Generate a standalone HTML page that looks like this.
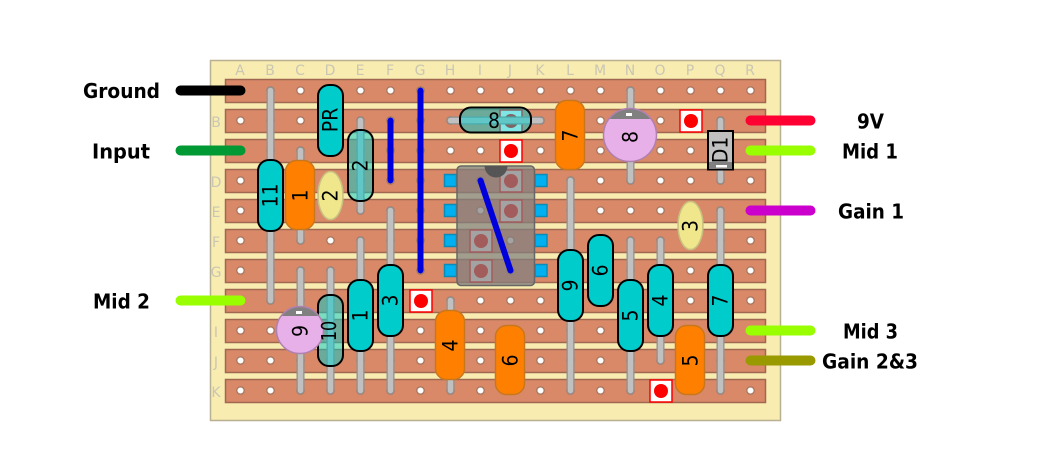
<!DOCTYPE html>
<html><head><meta charset="utf-8"><style>
html,body{margin:0;padding:0;background:#fff;width:1062px;height:471px;overflow:hidden}
svg{display:block}
.ll{font:bold 20.5px "DejaVu Sans",sans-serif;fill:#000}
.gl{font:14px "DejaVu Sans",sans-serif;fill:#c9c6b4;text-anchor:middle}
.t{font:21.5px "DejaVu Sans",sans-serif;fill:#000;text-anchor:middle;dominant-baseline:central}
.s{fill:#d98868;stroke:#a06850;stroke-width:1.5}
.wo{stroke:#8f8f8f;stroke-width:8;stroke-linecap:round;fill:none}
.wi{stroke:#c0c0c0;stroke-width:5.5;stroke-linecap:round;fill:none}
.b{stroke:#0000dd;stroke-width:6;stroke-linecap:round;fill:none}
.r{fill:#00cccc;stroke:#000;stroke-width:2}
.rt{fill:#00cccc;fill-opacity:.5;stroke:#000;stroke-width:2}
.c{fill:#ff8000;stroke:#c8771c;stroke-width:1.5}
.y{fill:#f0e68c;stroke:#c8c080;stroke-width:1.5}
.m{fill:#fff;stroke:#ff0000;stroke-width:1.5}
.d{fill:#ff0000}
.p{fill:#00b0f0;stroke:#0a8cb8;stroke-width:1.5}
.e{stroke-width:10;stroke-linecap:round;fill:none}
</style></head><body>
<svg width="1062" height="471" viewBox="0 0 1062 471" xmlns="http://www.w3.org/2000/svg">
<defs>
<pattern id="h" x="225.5" y="75.5" width="30" height="30" patternUnits="userSpaceOnUse">
<circle cx="15" cy="15" r="3.7" fill="#fff" stroke="#a87860" stroke-width="1.3"/>
</pattern>
<clipPath id="c8"><circle cx="630" cy="135" r="26.5"/></clipPath>
<clipPath id="c9"><circle cx="300" cy="330" r="23.5"/></clipPath>
</defs>
<rect x="210.500" y="60.500" width="570" height="360" fill="#f8ecb0" stroke="#b8b090" stroke-width="1.500"/>
<g class="gl">
<text x="240" y="75">A</text><text x="270" y="75">B</text><text x="300" y="75">C</text><text x="330" y="75">D</text><text x="360" y="75">E</text><text x="390" y="75">F</text><text x="420" y="75">G</text><text x="450" y="75">H</text><text x="480" y="75">I</text><text x="510" y="75">J</text><text x="540" y="75">K</text><text x="570" y="75">L</text><text x="600" y="75">M</text><text x="630" y="75">N</text><text x="660" y="75">O</text><text x="690" y="75">P</text><text x="720" y="75">Q</text><text x="750" y="75">R</text>
<text x="216" y="127">B</text><text x="216" y="187">D</text><text x="216" y="217">E</text><text x="216" y="247">F</text><text x="216" y="277">G</text><text x="216" y="337">I</text><text x="216" y="367">J</text><text x="216" y="397">K</text>
</g>
<g class="s">
<rect x="225.500" y="79.500" width="540" height="23"/><rect x="225.500" y="109.500" width="540" height="23"/><rect x="225.500" y="139.500" width="540" height="23"/><rect x="225.500" y="169.500" width="540" height="23"/><rect x="225.500" y="199.500" width="540" height="23"/><rect x="225.500" y="229.500" width="540" height="23"/><rect x="225.500" y="259.500" width="540" height="23"/><rect x="225.500" y="289.500" width="540" height="23"/><rect x="225.500" y="319.500" width="540" height="23"/><rect x="225.500" y="349.500" width="540" height="23"/><rect x="225.500" y="379.500" width="540" height="23"/>
</g>
<rect x="225.500" y="75.500" width="540" height="330" fill="url(#h)"/>
<!-- markers -->
<g class="m">
<rect x="500" y="110" width="22" height="22"/><rect x="500" y="140" width="22" height="22"/><rect x="680" y="110" width="22" height="22"/><rect x="410" y="290" width="22" height="22"/><rect x="650" y="380" width="22" height="22"/><rect x="500" y="170" width="22" height="22"/><rect x="500" y="200" width="22" height="22"/><rect x="470" y="230" width="22" height="22"/><rect x="470" y="260" width="22" height="22"/>
</g>
<g class="d">
<circle cx="511" cy="121" r="7"/><circle cx="511" cy="151" r="7"/><circle cx="691" cy="121" r="7"/><circle cx="421" cy="301" r="7"/><circle cx="661" cy="391" r="7"/><circle cx="511" cy="181" r="7"/><circle cx="511" cy="211" r="7"/><circle cx="481" cy="241" r="7"/><circle cx="481" cy="271" r="7"/>
</g>
<!-- lead wires -->
<g transform="translate(.5,.5)">
<path class="wo" d="M270 90V300M300 150V240M300 270V390M330 270V390M360 120V210M360 240V390M390 210V390M450 300V390M570 180V390M630 90V180M630 240V390M660 240V360M720 120V180M720 210V390M450 120H540"/>
<path class="wi" d="M270 90V300M300 150V240M300 270V390M330 270V390M360 120V210M360 240V390M390 210V390M450 300V390M570 180V390M630 90V180M630 240V390M660 240V360M720 120V180M720 210V390M450 120H540"/>
<path class="b" d="M420 90V270M390 120V180"/>
</g>
<!-- IC -->
<g class="p">
<rect x="444.500" y="174.500" width="12" height="12"/><rect x="444.500" y="204.500" width="12" height="12"/><rect x="444.500" y="234.500" width="12" height="12"/><rect x="444.500" y="264.500" width="12" height="12"/>
<rect x="535" y="174.500" width="12" height="12"/><rect x="535" y="204.500" width="12" height="12"/><rect x="535" y="234.500" width="12" height="12"/><rect x="535" y="264.500" width="12" height="12"/>
</g>
<rect x="457" y="166" width="77.500" height="119.500" rx="4" fill="#808080" fill-opacity=".72" stroke="#666" stroke-width="1.500"/>
<path d="M484.500 166a11.500 11.500 0 0 0 23 0z" fill="#555"/>
<path class="b" d="M480.500 180.500L510.500 270.500"/>
<!-- resistors -->
<rect class="r" x="318" y="85" width="25" height="71" rx="11"/>
<rect class="r" x="258" y="160" width="25" height="71" rx="11"/>
<rect class="r" x="348" y="280" width="25" height="71" rx="11"/>
<rect class="r" x="378" y="265" width="25" height="71" rx="11"/>
<rect class="r" x="558" y="250" width="25" height="71" rx="11"/>
<rect class="r" x="588" y="235" width="25" height="71" rx="11"/>
<rect class="r" x="618" y="280" width="25" height="71" rx="11"/>
<rect class="r" x="648" y="265" width="25" height="71" rx="11"/>
<rect class="r" x="708" y="265" width="25" height="71" rx="11"/>
<rect class="rt" x="348" y="130" width="25" height="71" rx="11"/>
<rect class="rt" x="318" y="295" width="25" height="71" rx="11"/>
<rect class="rt" x="460" y="107.500" width="71" height="25" rx="11"/>
<!-- film caps -->
<rect class="c" x="285.500" y="160.500" width="29" height="69" rx="11"/>
<rect class="c" x="555.500" y="100.500" width="29" height="69" rx="11"/>
<rect class="c" x="435.500" y="310.500" width="29" height="69" rx="11"/>
<rect class="c" x="495.500" y="325.500" width="29" height="69" rx="11"/>
<rect class="c" x="675.500" y="325.500" width="29" height="69" rx="11"/>
<ellipse class="y" cx="330.500" cy="195.500" rx="12.500" ry="24"/>
<ellipse class="y" cx="690.500" cy="225.500" rx="12.500" ry="24"/>
<!-- electrolytics -->
<circle cx="630" cy="135" r="26.500" fill="#e8b0e8"/>
<rect x="600" y="105" width="60" height="14" fill="#808080" clip-path="url(#c8)"/>
<circle cx="630" cy="135" r="26.500" fill="none" stroke="#b080b0" stroke-width="1.500"/>
<rect x="626" y="113" width="6" height="3" fill="#fff"/>
<circle cx="300" cy="330" r="23.500" fill="#e8b0e8"/>
<rect x="272" y="303" width="56" height="13" fill="#808080" clip-path="url(#c9)"/>
<circle cx="300" cy="330" r="23.500" fill="none" stroke="#b080b0" stroke-width="1.500"/>
<rect x="296" y="311" width="6" height="3" fill="#fff"/>
<!-- diode -->
<rect x="708" y="131" width="25" height="38.500" fill="#c0c0c0" stroke="#000" stroke-width="2"/>
<rect x="709" y="162" width="23" height="7" fill="#808080"/>
<rect x="716" y="165" width="11" height="2.500" fill="#fff"/>
<!-- component text -->
<g class="t">
<text transform="translate(330,120) rotate(-90) scale(.88,1)">PR</text>
<text transform="translate(270,195.500) rotate(-90) scale(.88,1)">11</text>
<text transform="translate(300,195.500) rotate(-90) scale(.88,1)">1</text>
<text transform="translate(330,195.500) rotate(-90) scale(.88,1)">2</text>
<text transform="translate(360,165.500) rotate(-90) scale(.88,1)">2</text>
<text transform="translate(360,315.500) rotate(-90) scale(.88,1)">1</text>
<text transform="translate(390,300.500) rotate(-90) scale(.88,1)">3</text>
<text transform="translate(330,331) rotate(-90) scale(.8,1)" style="font-size:20px">10</text>
<text transform="translate(300,331) rotate(-90) scale(.88,1)">9</text>
<text transform="translate(450,345.500) rotate(-90) scale(.88,1)">4</text>
<text transform="translate(510,360.500) rotate(-90) scale(.88,1)">6</text>
<text transform="translate(570,135.500) rotate(-90) scale(.88,1)">7</text>
<text transform="translate(570,285.500) rotate(-90) scale(.88,1)">9</text>
<text transform="translate(600,270.500) rotate(-90) scale(.88,1)">6</text>
<text transform="translate(630,315.500) rotate(-90) scale(.88,1)">5</text>
<text transform="translate(660,300.500) rotate(-90) scale(.88,1)">4</text>
<text transform="translate(690,360.500) rotate(-90) scale(.88,1)">5</text>
<text transform="translate(690,226) rotate(-90) scale(.88,1)">3</text>
<text transform="translate(720,300.500) rotate(-90) scale(.88,1)">7</text>
<text transform="translate(630,137) rotate(-90) scale(.88,1)">8</text>
<text transform="translate(720,150) rotate(-90) scale(.88,1)">D1</text>
<text transform="translate(494,120.500) scale(.88,1)">8</text>
</g>
<!-- external wires -->
<g transform="translate(.5,.5)">
<path class="e" stroke="#000" d="M180 90H240"/>
<path class="e" stroke="#009933" d="M180 150H240"/>
<path class="e" stroke="#99ff00" d="M180 300H240"/>
<path class="e" stroke="#ff0033" d="M750 120H810"/>
<path class="e" stroke="#99ff00" d="M750 150H810"/>
<path class="e" stroke="#cc00cc" d="M750 210H810"/>
<path class="e" stroke="#99ff00" d="M750 330H810"/>
<path class="e" stroke="#999900" d="M750 360H810"/>
</g>
<text class="ll" x="83" y="98" textLength="77" lengthAdjust="spacingAndGlyphs">Ground</text>
<text class="ll" x="92" y="158.500" textLength="58" lengthAdjust="spacingAndGlyphs">Input</text>
<text class="ll" x="93" y="308.500" textLength="57" lengthAdjust="spacingAndGlyphs">Mid 2</text>
<text class="ll" x="857" y="128.500" textLength="27" lengthAdjust="spacingAndGlyphs">9V</text>
<text class="ll" x="842" y="158.500" textLength="56" lengthAdjust="spacingAndGlyphs">Mid 1</text>
<text class="ll" x="838" y="218.500" textLength="66" lengthAdjust="spacingAndGlyphs">Gain 1</text>
<text class="ll" x="843" y="338.500" textLength="55" lengthAdjust="spacingAndGlyphs">Mid 3</text>
<text class="ll" x="822" y="368.500" textLength="96" lengthAdjust="spacingAndGlyphs">Gain 2&amp;3</text>
</svg>
</body></html>
